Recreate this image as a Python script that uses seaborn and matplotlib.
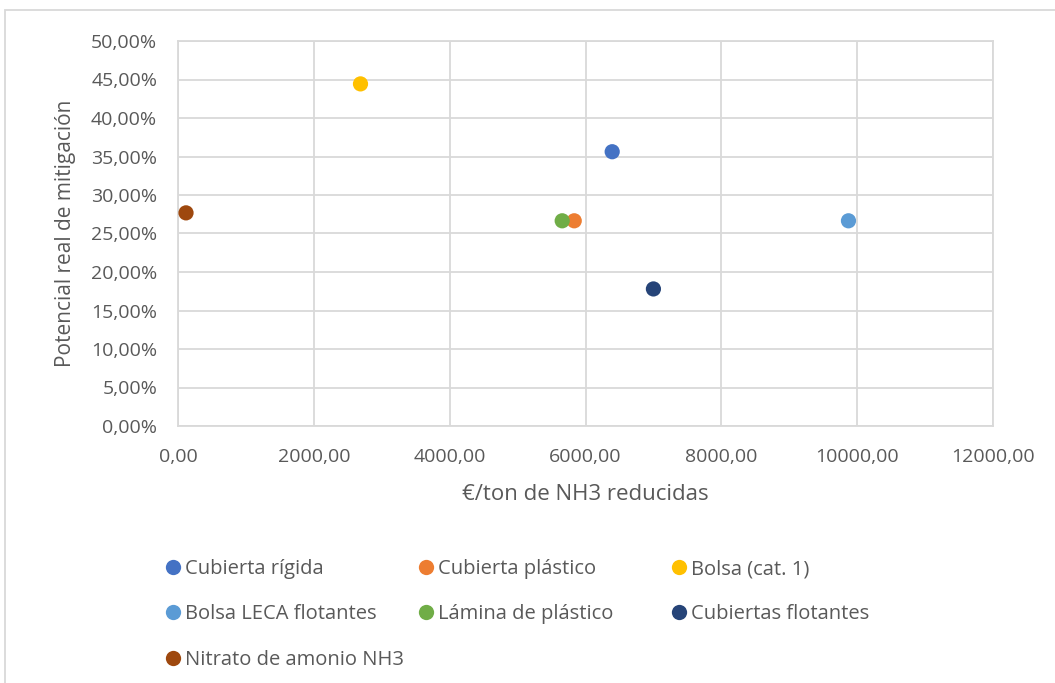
import matplotlib
matplotlib.use("Agg")
import matplotlib.pyplot as plt
import matplotlib.patches as mpatches
from matplotlib.ticker import FuncFormatter, MultipleLocator
from matplotlib.lines import Line2D
import pandas as pd
import seaborn as sns

# values
medidas = [
    "Cubierta rígida",
    "Cubierta plástico",
    "Bolsa (cat. 1)",
    "Bolsa LECA flotantes",
    "Lámina de plástico",
    "Cubiertas flotantes",
    "Nitrato de amonio NH3",
]
coste_eur_ton = [6393, 5834, 2687, 9872, 5657, 7000, 118]
potencial = [0.3562, 0.2665, 0.4443, 0.2665, 0.2665, 0.178, 0.2768]
colores = ["#4472C4", "#ED7D31", "#FFC000", "#5B9BD5", "#70AD47", "#264478", "#9E480E"]

df = pd.DataFrame({"medida": medidas, "coste": coste_eur_ton, "potencial": potencial})
palette = dict(zip(medidas, colores))

sns.set_theme(style="white")
plt.rcParams["font.family"] = ["Open Sans", "DejaVu Sans"]

text_color = "#595959"
grid_color = "#D9D9D9"

fig = plt.figure(figsize=(10.55, 6.83), dpi=100)
ax = fig.add_axes([178 / 1055, 1 - 426 / 683, (993 - 178) / 1055, (426 - 41) / 683])

sns.scatterplot(
    data=df,
    x="coste",
    y="potencial",
    hue="medida",
    palette=palette,
    s=120,
    linewidth=0,
    legend=False,
    ax=ax,
    zorder=3,
)

ax.set_xlim(0, 12000)
ax.set_ylim(0, 0.5)
ax.xaxis.set_major_locator(MultipleLocator(2000))
ax.yaxis.set_major_locator(MultipleLocator(0.05))
ax.xaxis.set_major_formatter(FuncFormatter(lambda v, p: f"{v:.2f}".replace(".", ",")))
ax.yaxis.set_major_formatter(FuncFormatter(lambda v, p: f"{v * 100:.2f}%".replace(".", ",")))
ax.grid(True, color=grid_color, linewidth=1.3)
ax.set_axisbelow(True)
for side, spine in ax.spines.items():
    spine.set_color(grid_color)
    spine.set_linewidth(1.3)

ax.tick_params(axis="x", length=0, labelsize=14, colors=text_color, pad=16)
ax.tick_params(axis="y", length=0, labelsize=14, colors=text_color, pad=15)
ax.set_xlabel("€/ton de NH3 reducidas", fontsize=16, color=text_color)
ax.set_ylabel("Potencial real de mitigación", fontsize=15, color=text_color)
ax.xaxis.set_label_coords(0.5, -0.15)
ax.yaxis.set_label_coords(-0.125, 0.5)

# Excel-style legend: three equal-width columns filled row by row
col_x = [155, 408, 661]
for c in range(3):
    idx = list(range(c, len(medidas), 3))
    handles = [
        Line2D([], [], marker="o", linestyle="", markersize=11,
               color=colores[i], markeredgewidth=0)
        for i in idx
    ]
    leg = fig.legend(
        handles,
        [medidas[i] for i in idx],
        loc="upper left",
        bbox_to_anchor=(col_x[c] / 1055, 1 - 551 / 683),
        frameon=False,
        fontsize=14.5,
        labelcolor=text_color,
        handletextpad=0.1,
        handlelength=1.0,
        labelspacing=1.26,
        borderaxespad=0,
    )

border = mpatches.Rectangle(
    (5 / 1055, -0.1), 1.2, 1 - 10 / 683 + 0.1,
    transform=fig.transFigure, fill=False, edgecolor=grid_color, linewidth=1.3,
)
fig.patches.append(border)

fig.savefig("out.png", dpi=100, facecolor="white")
